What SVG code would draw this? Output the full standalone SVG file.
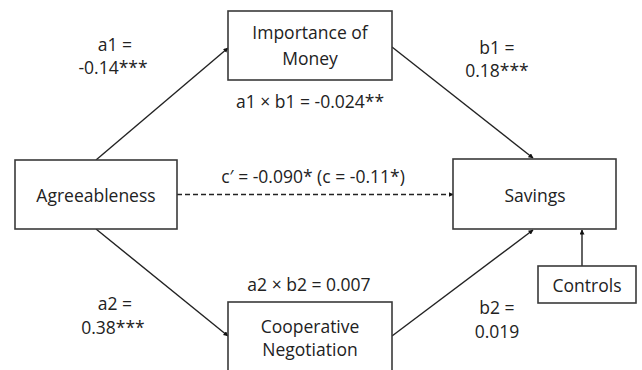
<svg xmlns="http://www.w3.org/2000/svg" width="642" height="370" viewBox="0 0 642 370">
<defs>
<style>
.box{fill:#fff;stroke:#3a3a3a;stroke-width:1.6}
.t{font-family:"Open Sans","Liberation Sans",sans-serif;font-size:17.5px;fill:#222;text-anchor:middle}
.c{stroke:#222;stroke-width:1.4;fill:none}
.d{stroke-dasharray:5,3}
</style>
<marker id="ah" viewBox="0 0 10 10" refX="9" refY="5" markerWidth="5" markerHeight="5" orient="auto" markerUnits="userSpaceOnUse">
<path d="M0,0 L10,5 L0,10 z" fill="#111"/>
</marker>
</defs>
<rect width="642" height="370" fill="#fff"/>
<g id="connectors">
<line class="c" x1="96" y1="160" x2="228" y2="48" marker-end="url(#ah)"/>
<line class="c" x1="392" y1="47" x2="533" y2="158" marker-end="url(#ah)"/>
<line class="c" x1="96" y1="229" x2="228" y2="336" marker-end="url(#ah)"/>
<line class="c" x1="392" y1="336" x2="533" y2="230" marker-end="url(#ah)"/>
<line class="c" x1="582" y1="266" x2="582" y2="230" marker-end="url(#ah)"/>
<line class="c d" x1="177" y1="194.5" x2="453" y2="194.5" marker-end="url(#ah)"/>
</g>
<g id="importance">
<rect class="box" x="228" y="11" width="164" height="69"/>
<text class="t" x="310" y="39">Importance of</text>
<text class="t" x="310" y="65">Money</text>
</g>
<g id="agreeableness">
<rect class="box" x="15" y="160" width="162" height="69"/>
<text class="t" x="96" y="202">Agreeableness</text>
</g>
<g id="savings">
<rect class="box" x="453" y="159" width="163" height="70"/>
<text class="t" x="535" y="202">Savings</text>
</g>
<g id="cooperative">
<rect class="box" x="228" y="302" width="164" height="80"/>
<text class="t" x="310" y="333">Cooperative</text>
<text class="t" x="310" y="356">Negotiation</text>
</g>
<g id="controls">
<rect class="box" x="538" y="266" width="98" height="37"/>
<text class="t" x="587" y="292">Controls</text>
</g>
<g id="labels">
<text class="t" x="115" y="51">a1 =</text>
<text class="t" x="113" y="74">-0.14***</text>
<text class="t" x="497" y="54">b1 =</text>
<text class="t" x="497" y="77">0.18***</text>
<text class="t" x="310" y="108">a1 × b1 = -0.024**</text>
<text class="t" x="313" y="183">c′ = -0.090* (c = -0.11*)</text>
<text class="t" x="309" y="291">a2 × b2 = 0.007</text>
<text class="t" x="115" y="310">a2 =</text>
<text class="t" x="113" y="334">0.38***</text>
<text class="t" x="497" y="314">b2 =</text>
<text class="t" x="497" y="338">0.019</text>
</g>
</svg>
